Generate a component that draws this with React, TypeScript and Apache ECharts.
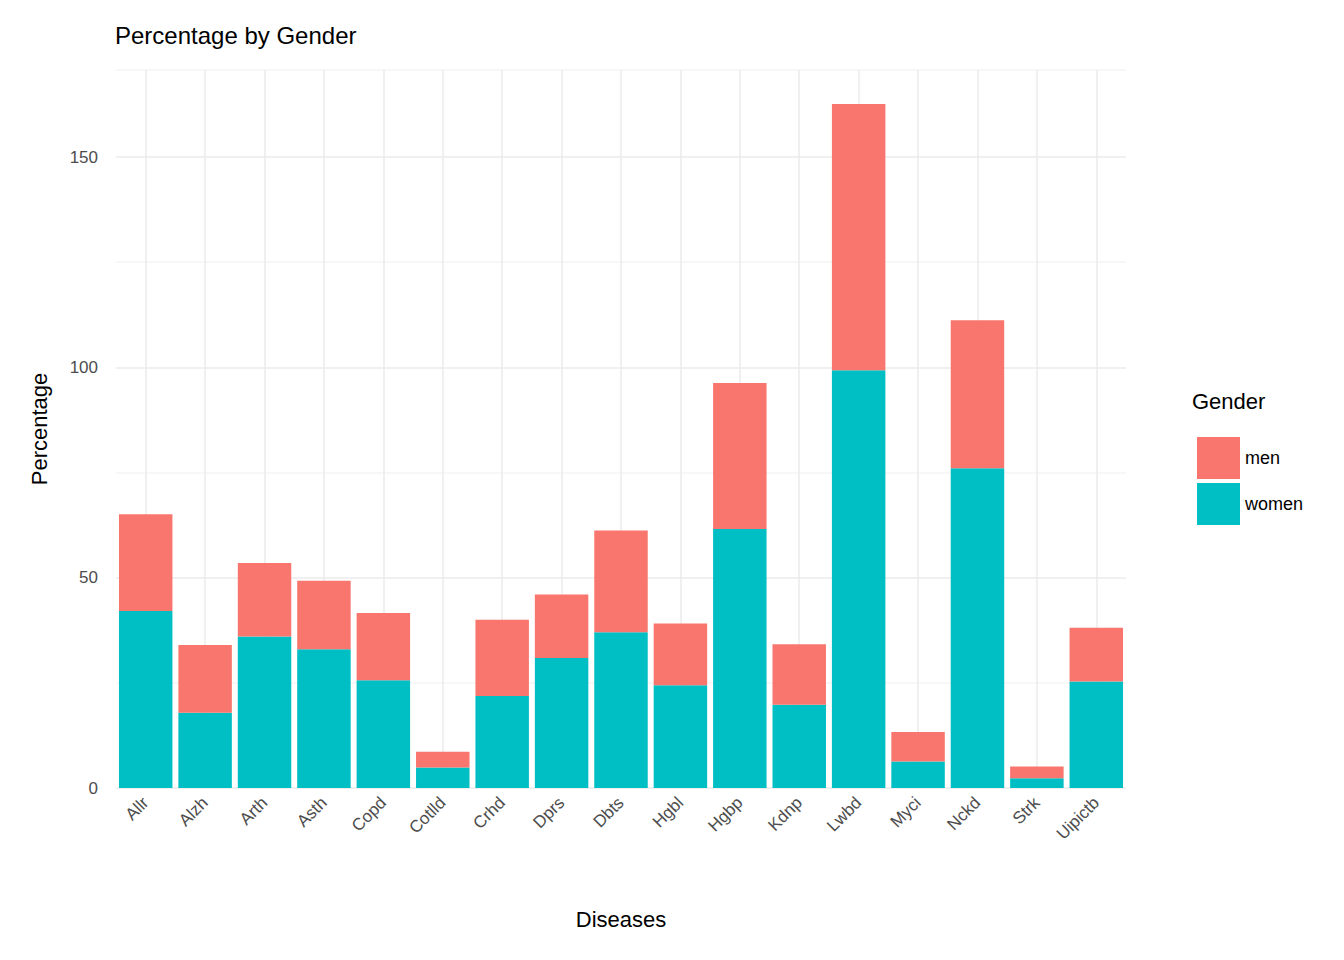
import { useEffect, useRef } from "react";
import * as echarts from "echarts";

const categories = ["Allr", "Alzh", "Arth", "Asth", "Copd", "Cotlld", "Crhd", "Dprs", "Dbts", "Hgbl", "Hgbp", "Kdnp", "Lwbd", "Myci", "Nckd", "Strk", "Uipictb"];
const women = [42.1, 17.9, 36.0, 33.0, 25.6, 4.9, 21.9, 30.9, 37.0, 24.4, 61.6, 19.8, 99.3, 6.3, 76.0, 2.3, 25.3];
const totals = [65.1, 34.0, 53.5, 49.3, 41.6, 8.6, 40.0, 46.0, 61.2, 39.1, 96.3, 34.2, 162.6, 13.3, 111.2, 5.1, 38.1];
const men = totals.map((t, i) => +(t - women[i]).toFixed(1));

const font = "Arial, 'Liberation Sans', sans-serif";

export default function App() {
  const ref = useRef<HTMLDivElement>(null);

  useEffect(() => {
    if (!ref.current) return;
    const chart = echarts.init(ref.current, null, { renderer: "svg" });
    chart.setOption({
      animation: false,
      textStyle: { fontFamily: font },
      title: {
        text: "Percentage by Gender",
        left: 102,
        top: 10,
        textStyle: { fontSize: 24, fontWeight: "normal", color: "#000", fontFamily: font },
      },
      grid: { left: 108, right: 210, top: 62, bottom: 164 },
      legend: {
        orient: "vertical",
        left: 1184,
        top: 424,
        itemWidth: 43,
        itemHeight: 42,
        itemGap: 4,
        icon: "rect",
        data: ["men", "women"],
        textStyle: { fontSize: 18, color: "#000", fontFamily: font },
      },
      graphic: [
        { type: "text", left: 1184, top: 382, style: { text: "Gender", fontSize: 22, fill: "#000", fontFamily: font } },
      ],
      xAxis: {
        type: "category",
        data: categories,
        name: "Diseases",
        nameLocation: "middle",
        nameGap: 120,
        nameTextStyle: { fontSize: 22, color: "#000" },
        axisLine: { show: false },
        axisTick: { show: false, alignWithLabel: true },
        axisLabel: { rotate: 45, fontSize: 17, color: "#4d4d4d", margin: 12 },
        splitLine: { show: true, alignWithLabel: true, lineStyle: { color: "#ebebeb", width: 1.5 } },
      },
      yAxis: {
        type: "value",
        min: 0,
        max: 170.7,
        interval: 25,
        name: "Percentage",
        nameLocation: "middle",
        nameGap: 66,
        nameTextStyle: { fontSize: 22, color: "#000" },
        axisLine: { show: false },
        axisTick: { show: false },
        axisLabel: {
          fontSize: 17,
          color: "#4d4d4d",
          margin: 18,
          formatter: (v: number) => (v % 50 === 0 ? String(v) : ""),
        },
        splitLine: { lineStyle: { color: ["#ebebeb", "#f4f4f4"], width: 1.5 } },
      },
      series: [
        {
          name: "women",
          type: "bar",
          stack: "g",
          data: women,
          barCategoryGap: "10%",
          itemStyle: { color: "#00BFC4" },
        },
        {
          name: "men",
          type: "bar",
          stack: "g",
          data: men,
          barCategoryGap: "10%",
          itemStyle: { color: "#F8766D" },
        },
      ],
    });
    return () => chart.dispose();
  }, []);

  return <div ref={ref} style={{ width: 1328, height: 944 }} />;
}
